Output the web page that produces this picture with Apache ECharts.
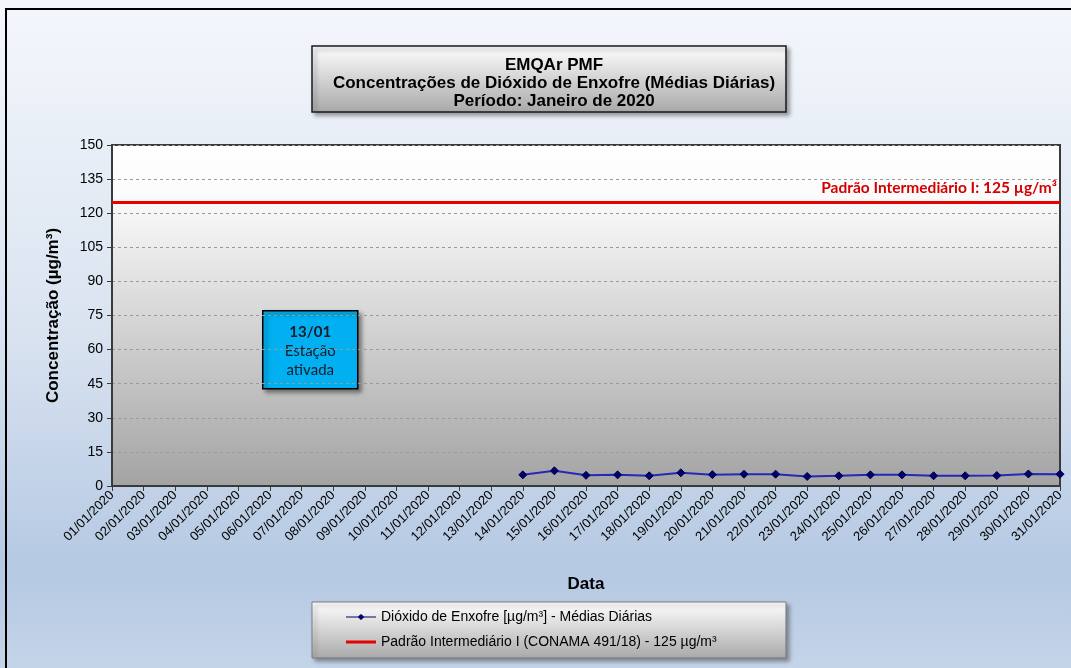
<!DOCTYPE html>
<html>
<head>
<meta charset="utf-8">
<title>EMQAr PMF - SO2</title>
<script src="https://cdn.jsdelivr.net/npm/echarts@6/dist/echarts.min.js"></script>
<style>
  html, body { margin: 0; padding: 0; }
  #chart { width: 1071px; height: 668px; }
</style>
</head>
<body>
<div id="chart"></div>
<script>
  // categorias (dias de janeiro/2020)
  var dias = ['01/01/2020','02/01/2020','03/01/2020','04/01/2020','05/01/2020','06/01/2020','07/01/2020',
    '08/01/2020','09/01/2020','10/01/2020','11/01/2020','12/01/2020','13/01/2020','14/01/2020','15/01/2020',
    '16/01/2020','17/01/2020','18/01/2020','19/01/2020','20/01/2020','21/01/2020','22/01/2020','23/01/2020',
    '24/01/2020','25/01/2020','26/01/2020','27/01/2020','28/01/2020','29/01/2020','30/01/2020','31/01/2020']

  // médias diárias de SO2 (estação ativada em 13/01, dados a partir de 14/01)
  var so2 = [null,null,null,null,null,null,null,null,null,null,null,null,null,
    4.9, 6.7, 4.7, 4.9, 4.5, 5.8, 5.0, 5.2, 5.2, 4.2, 4.5, 4.9, 4.9, 4.5, 4.5, 4.6, 5.3, 5.2]

  var padrao = 125
  var yTicks = { min: 0, max: 150, interval: 15 }

  var serieSO2 = 'Dióxido de Enxofre [µg/m³] - Médias Diárias'
  var seriePadrao = 'Padrão Intermediário I (CONAMA 491/18) - 125 µg/m³'

  var fonte = '"Liberation Sans", Arial, sans-serif'

  var chart = echarts.init(document.getElementById('chart'))

  var option = {
    animation: false,
    backgroundColor: {
      type: 'linear', x: 0, y: 0, x2: 0, y2: 1,
      colorStops: [
        { offset: 0, color: '#f4f7fc' },
        { offset: 0.5, color: '#d9e3f0' },
        { offset: 0.85, color: '#b5c9e3' },
        { offset: 1, color: '#c4d4e8' }
      ]
    },
    title: {
      text: 'EMQAr PMF\nConcentrações de Dióxido de Enxofre (Médias Diárias)\nPeríodo: Janeiro de 2020',
      left: 549, top: 51, textAlign: 'center',
      textStyle: { fontFamily: fonte, fontSize: 17, fontWeight: 'bold', color: '#000', lineHeight: 18 }
    },
    legend: {
      orient: 'vertical',
      left: 341, top: 605,
      itemWidth: 30, itemHeight: 12, itemGap: 11,
      itemStyle: { borderWidth: 0 },
      lineStyle: { width: 0 },
      textStyle: { fontFamily: fonte, fontSize: 14, color: '#000' },
      data: [
        { name: serieSO2,
          icon: 'path://M0,5.5 L12,5.5 L15,3 L18,5.5 L30,5.5 L30,6.5 L18,6.5 L15,9 L12,6.5 L0,6.5 Z' },
        { name: seriePadrao, icon: 'path://M0,0 L30,0 L30,3 L0,3 Z' }
      ]
    },
    grid: {
      left: 112, right: 11, top: 145, bottom: 182,
      show: true,
      borderColor: '#3a3a3a', borderWidth: 2,
      backgroundColor: {
        type: 'linear', x: 0, y: 0, x2: 0, y2: 1,
        colorStops: [
          { offset: 0, color: '#ffffff' },
          { offset: 0.15, color: '#fbfbfb' },
          { offset: 1, color: '#a3a3a3' }
        ]
      }
    },
    xAxis: {
      type: 'category',
      data: dias,
      boundaryGap: false,
      name: 'Data',
      nameLocation: 'middle',
      nameGap: 90,
      nameTextStyle: { fontFamily: fonte, fontSize: 17, fontWeight: 'bold', color: '#000' },
      axisLine: { lineStyle: { color: '#3a3a3a', width: 2 } },
      axisTick: { show: true, alignWithLabel: true, length: 5, lineStyle: { color: '#3a3a3a' } },
      axisLabel: { interval: 0, rotate: 45, margin: 7, fontFamily: fonte, fontSize: 13, color: '#000' },
      splitLine: { show: false }
    },
    yAxis: {
      type: 'value',
      min: yTicks.min, max: yTicks.max, interval: yTicks.interval,
      name: 'Concentração (µg/m³)',
      nameLocation: 'middle',
      nameGap: 50,
      nameTextStyle: { fontFamily: fonte, fontSize: 17, fontWeight: 'bold', color: '#000' },
      axisLine: { show: true, lineStyle: { color: '#3a3a3a', width: 2 } },
      axisTick: { show: true, length: 5, lineStyle: { color: '#3a3a3a' } },
      axisLabel: { margin: 9, fontFamily: fonte, fontSize: 14, color: '#000' },
      splitLine: { lineStyle: { color: '#9a9a9a', type: [3, 3], width: 1 } }
    },
    series: [
      {
        name: serieSO2,
        type: 'line',
        data: so2,
        symbol: 'diamond',
        symbolSize: 8,
        lineStyle: { color: '#2828b8', width: 2 },
        itemStyle: { color: '#000070', borderColor: '#000040', borderWidth: 1 },
        z: 5
      },
      {
        name: seriePadrao,
        type: 'line',
        data: [],
        symbol: 'none',
        lineStyle: { color: '#e60000', width: 3 },
        itemStyle: { color: '#e60000' },
        markLine: {
          silent: true,
          symbol: 'none',
          lineStyle: { color: '#e60000', width: 3, type: 'solid' },
          label: {
            show: true,
            position: 'insideEndTop',
            distance: [3, 6],
            formatter: 'Padrão Intermediário I: 125 µg/m³',
            fontFamily: 'Lato',
            fontSize: 15.5,
            fontWeight: 'bold',
            color: '#d40000'
          },
          data: [{ yAxis: padrao }]
        }
      }
    ],
    graphic: [
      // moldura externa
      {
        type: 'rect', z: -1,
        shape: { x: 6, y: 9, width: 1100, height: 700 },
        style: { fill: 'none', stroke: '#000', lineWidth: 2 }
      },
      // caixa do título
      {
        type: 'rect', z: -1,
        shape: { x: 312, y: 46, width: 474, height: 66 },
        style: {
          fill: { type: 'linear', x: 0, y: 0, x2: 0, y2: 1,
            colorStops: [{ offset: 0, color: '#ffffff' }, { offset: 1, color: '#a8a8a8' }] },
          stroke: '#1a1a1a', lineWidth: 1.5,
          shadowBlur: 4, shadowOffsetX: 3, shadowOffsetY: 3, shadowColor: 'rgba(0,0,0,0.35)'
        }
      },
      // caixa da legenda
      {
        type: 'rect', z: -1,
        shape: { x: 312, y: 602, width: 474, height: 56 },
        style: {
          fill: { type: 'linear', x: 0, y: 0, x2: 0, y2: 1,
            colorStops: [{ offset: 0, color: '#ffffff' }, { offset: 1, color: '#a9a9a9' }] },
          stroke: '#7a7a7a', lineWidth: 1,
          shadowBlur: 4, shadowOffsetX: 3, shadowOffsetY: 3, shadowColor: 'rgba(0,0,0,0.35)'
        }
      },
      // anotação da ativação da estação
      {
        type: 'group', left: 262, top: 310, z: 10,
        children: [
          {
            type: 'rect',
            shape: { x: 0, y: 0, width: 95, height: 78 },
            style: {
              fill: '#00b0f0', stroke: '#000', lineWidth: 1.5,
              shadowBlur: 4, shadowOffsetX: 3, shadowOffsetY: 3, shadowColor: 'rgba(0,0,0,0.4)'
            }
          },
          {
            type: 'text', x: 47.5, y: 21,
            style: { text: '13/01', textAlign: 'center', textVerticalAlign: 'middle',
              font: 'bold 15px Lato', fill: '#1a1a2a' }
          },
          {
            type: 'text', x: 47.5, y: 40,
            style: { text: 'Estação', textAlign: 'center', textVerticalAlign: 'middle',
              font: '15px Lato', fill: '#1a1a2a' }
          },
          {
            type: 'text', x: 47.5, y: 59,
            style: { text: 'ativada', textAlign: 'center', textVerticalAlign: 'middle',
              font: '15px Lato', fill: '#1a1a2a' }
          }
        ]
      }
    ]
  }

  chart.setOption(option)
  window.addEventListener('resize', function () {
    chart.resize()
  })
</script>
</body>
</html>
